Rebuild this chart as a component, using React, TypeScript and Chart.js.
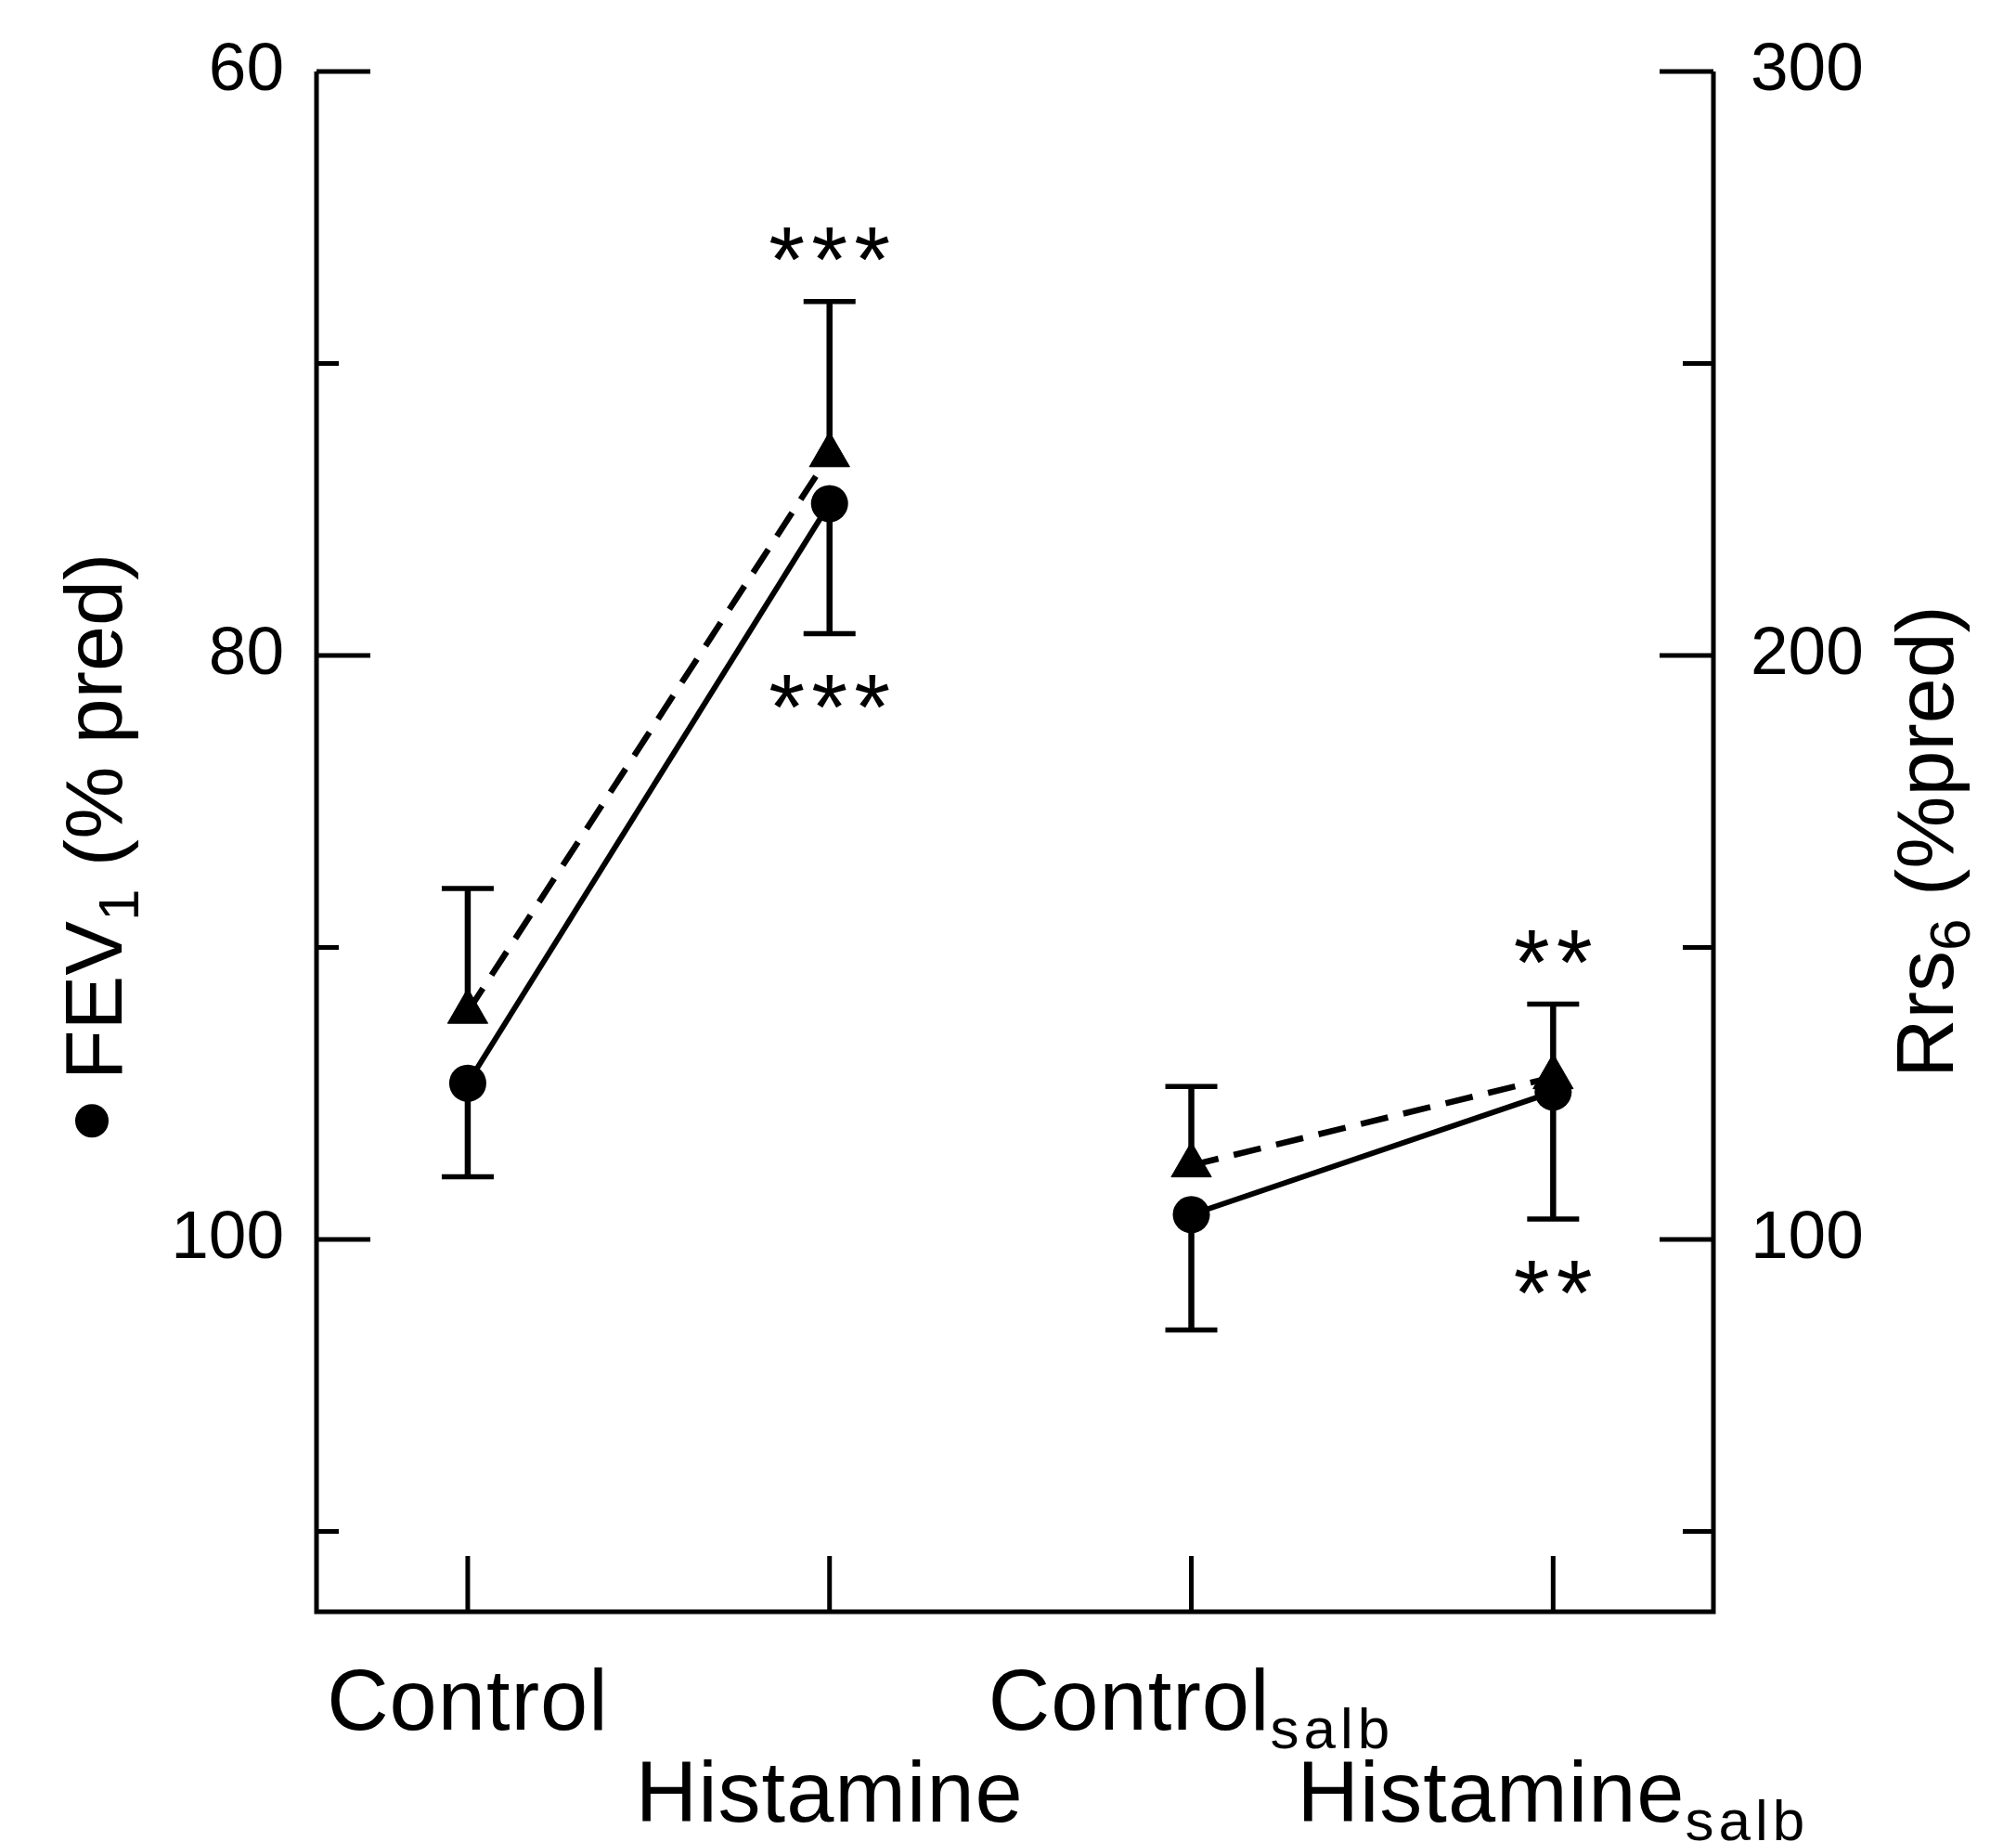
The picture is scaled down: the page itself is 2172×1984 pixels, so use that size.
import React, { useEffect, useRef } from 'react';
import { Chart, registerables } from 'chart.js';

Chart.register(...registerables);

// x categories (two label rows, some with a "salb" subscript)
const categoryNames = ['Control', 'Histamine', 'Control', 'Histamine'];
const categorySubs = ['', '', 'salb', 'salb'];
const labelRows = [0, 1, 0, 1];

// FEV1 (% pred) - left axis, upside down
const fev1Values = [94.65, 74.8, 99.15, 94.95];
const fev1Errors = [3.2, 4.45, 3.95, 4.35];

// Rrs6 (% pred) - right axis
const rrsValues = [139, 234.3, 112.7, 127.8];
const rrsErrors = [21.1, 26.3, 13.5, 12.5];

const starsAbove = ['', '***', '', '**'];
const starsBelow = ['', '***', '', '**'];

const leftTicks = [60, 70, 80, 90, 100, 110];
const leftLabels = [60, 80, 100];
const rightTicks = [50, 100, 150, 200, 250, 300];
const rightLabels = [100, 200, 300];

const FONT = '"Liberation Sans", Arial, Helvetica, sans-serif';

type Part = { text: string; size: number; dy?: number; spacing?: number };

function measureParts(ctx: CanvasRenderingContext2D, parts: Part[]) {
  return parts.map(p => {
    ctx.font = `${p.size}px ${FONT}`;
    (ctx as any).letterSpacing = `${p.spacing || 0}px`;
    const w = ctx.measureText(p.text).width;
    (ctx as any).letterSpacing = '0px';
    return w;
  });
}

function drawParts(ctx: CanvasRenderingContext2D, parts: Part[], x: number, y: number) {
  const widths = measureParts(ctx, parts);
  let cx = x;
  ctx.textAlign = 'left';
  ctx.textBaseline = 'alphabetic';
  parts.forEach((p, i) => {
    ctx.font = `${p.size}px ${FONT}`;
    (ctx as any).letterSpacing = `${p.spacing || 0}px`;
    ctx.fillText(p.text, cx, y + (p.dy || 0));
    (ctx as any).letterSpacing = '0px';
    cx += widths[i];
  });
}

function line(ctx: CanvasRenderingContext2D, x0: number, y0: number, x1: number, y1: number) {
  ctx.beginPath();
  ctx.moveTo(x0, y0);
  ctx.lineTo(x1, y1);
  ctx.stroke();
}

function drawStars(ctx: CanvasRenderingContext2D, stars: string, cx: number, cy: number) {
  if (!stars) return;
  ctx.font = `100px ${FONT}`;
  ctx.textAlign = 'center';
  ctx.textBaseline = 'alphabetic';
  const m = ctx.measureText('*');
  const base = cy + (m.actualBoundingBoxAscent - m.actualBoundingBoxDescent) / 2;
  const n = stars.length;
  for (let k = 0; k < n; k++) {
    ctx.fillText('*', cx + (k - (n - 1) / 2) * 46, base);
  }
}

function errorBar(ctx: CanvasRenderingContext2D, px: number, y0: number, y1: number) {
  ctx.lineWidth = 6.5;
  line(ctx, px, y0, px, y1);
  ctx.lineWidth = 5.5;
  line(ctx, px - 28, y1, px + 28, y1);
}

const decorations = {
  id: 'decorations',
  beforeDatasetsDraw(chart: any) {
    const { ctx } = chart;
    const x = chart.scales.x;
    const yL = chart.scales.y;
    const yR = chart.scales.y1;
    ctx.save();
    ctx.strokeStyle = '#000';
    ctx.lineCap = 'butt';
    fev1Values.forEach((v, i) => {
      const px = x.getPixelForValue(i);
      errorBar(ctx, px, yL.getPixelForValue(v), yL.getPixelForValue(v + fev1Errors[i]));
    });
    rrsValues.forEach((v, i) => {
      const px = x.getPixelForValue(i);
      errorBar(ctx, px, yR.getPixelForValue(v), yR.getPixelForValue(v + rrsErrors[i]));
    });
    ctx.restore();
  },
  afterDraw(chart: any) {
    const { ctx, chartArea } = chart;
    const { left, right, top, bottom } = chartArea;
    const x = chart.scales.x;
    const yL = chart.scales.y;
    const yR = chart.scales.y1;
    ctx.save();
    ctx.strokeStyle = '#000';
    ctx.fillStyle = '#000';
    ctx.lineWidth = 5;
    ctx.lineJoin = 'miter';

    // frame: left, bottom, right
    ctx.beginPath();
    ctx.moveTo(left, top);
    ctx.lineTo(left, bottom);
    ctx.lineTo(right, bottom);
    ctx.lineTo(right, top);
    ctx.stroke();

    // inward ticks
    leftTicks.forEach(v => {
      const py = yL.getPixelForValue(v);
      line(ctx, left, py, left + (leftLabels.includes(v) ? 58 : 24), py);
    });
    rightTicks.forEach(v => {
      const py = yR.getPixelForValue(v);
      line(ctx, right, py, right - (rightLabels.includes(v) ? 58 : 33), py);
    });
    categoryNames.forEach((_, i) => {
      const px = x.getPixelForValue(i);
      line(ctx, px, bottom, px, bottom - 60);
    });

    // category labels
    categoryNames.forEach((name, i) => {
      const parts: Part[] = [{ text: name, size: 92, spacing: 1 }];
      if (categorySubs[i]) parts.push({ text: categorySubs[i], size: 62, dy: 20, spacing: 5 });
      const total = measureParts(ctx, parts).reduce((a, b) => a + b, 0);
      const px = x.getPixelForValue(i);
      const py = bottom + (labelRows[i] === 0 ? 127 : 226);
      drawParts(ctx, parts, px - total / 2, py);
    });

    // significance marks
    categoryNames.forEach((_, i) => {
      const px = x.getPixelForValue(i);
      drawStars(ctx, starsAbove[i], px, yR.getPixelForValue(rrsValues[i] + rrsErrors[i]) - 62);
      drawStars(ctx, starsBelow[i], px, yL.getPixelForValue(fev1Values[i] + fev1Errors[i]) + 63);
    });

    // left title with the circle marker
    const leftParts: Part[] = [
      { text: 'FEV', size: 88 },
      { text: '1', size: 62, dy: 18 },
      { text: ' (% pred)', size: 88 },
    ];
    const markerGap = 62;
    const leftTotal = markerGap + measureParts(ctx, leftParts).reduce((a, b) => a + b, 0);
    ctx.save();
    ctx.translate(131, (top + bottom) / 2 + 4);
    ctx.rotate(-Math.PI / 2);
    ctx.beginPath();
    ctx.arc(-leftTotal / 2 + 18, -32, 18, 0, Math.PI * 2);
    ctx.fill();
    drawParts(ctx, leftParts, -leftTotal / 2 + markerGap, 0);
    ctx.restore();

    // right title
    const rightParts: Part[] = [
      { text: 'Rrs', size: 88 },
      { text: '6', size: 62, dy: 18 },
      { text: ' (%pred)', size: 88 },
    ];
    const rightTotal = measureParts(ctx, rightParts).reduce((a, b) => a + b, 0);
    ctx.save();
    ctx.translate(2104, (top + bottom) / 2);
    ctx.rotate(-Math.PI / 2);
    drawParts(ctx, rightParts, -rightTotal / 2, 0);
    ctx.restore();

    ctx.restore();
  },
};

const App: React.FC = () => {
  const chartRef = useRef<HTMLCanvasElement>(null);

  useEffect(() => {
    if (!chartRef.current) return;
    const chart = new Chart(chartRef.current, {
      type: 'line',
      data: {
        datasets: [
          {
            label: 'FEV1',
            data: fev1Values.map((y, i) => ({ x: i, y })),
            yAxisID: 'y',
            borderColor: '#000',
            borderWidth: 6,
            pointStyle: 'circle',
            pointRadius: 20,
            pointBackgroundColor: '#000',
            pointBorderColor: '#000',
            pointBorderWidth: 0,
            order: 0,
            segment: {
              borderColor: (c: any) => (c.p0DataIndex === 1 ? 'rgba(0,0,0,0)' : undefined),
            },
          },
          {
            label: 'Rrs6',
            data: rrsValues.map((y, i) => ({ x: i, y })),
            yAxisID: 'y1',
            borderColor: '#000',
            borderWidth: 6.5,
            borderDash: [30, 17],
            pointStyle: 'triangle',
            pointRadius: 25,
            pointBackgroundColor: '#000',
            pointBorderColor: '#000',
            pointBorderWidth: 1,
            order: 1,
            segment: {
              borderColor: (c: any) => (c.p0DataIndex === 1 ? 'rgba(0,0,0,0)' : undefined),
            },
          },
        ],
      },
      options: {
        animation: false,
        responsive: false,
        devicePixelRatio: 1,
        events: [],
        layout: { padding: { top: 77, bottom: 248, left: 0, right: 0 }, autoPadding: false },
        plugins: { legend: { display: false }, tooltip: { enabled: false } },
        scales: {
          x: { type: 'linear', min: -0.418, max: 3.443, display: false },
          y: {
            type: 'linear',
            position: 'left',
            reverse: true,
            min: 60,
            max: 112.75,
            grid: { display: false },
            border: { display: false },
            afterBuildTicks: (s: any) => {
              s.ticks = leftTicks.map(value => ({ value }));
            },
            afterFit: (s: any) => {
              s.width = 341;
            },
            ticks: {
              padding: 27,
              color: '#000',
              font: { family: FONT, size: 73 },
              callback: (v: any) => (leftLabels.includes(Number(v)) ? String(v) : ''),
            },
          },
          y1: {
            type: 'linear',
            position: 'right',
            min: 36.25,
            max: 300,
            grid: { display: false },
            border: { display: false },
            afterBuildTicks: (s: any) => {
              s.ticks = rightTicks.map(value => ({ value }));
            },
            afterFit: (s: any) => {
              s.width = 2172 - 1846;
            },
            ticks: {
              padding: 32,
              color: '#000',
              font: { family: FONT, size: 73 },
              callback: (v: any) => (rightLabels.includes(Number(v)) ? String(v) : ''),
            },
          },
        },
      },
      plugins: [decorations],
    });

    return () => {
      chart.destroy();
    };
  }, []);

  return (
    <div style={{ position: 'absolute', left: 0, top: 0, width: 2172, height: 1984, background: '#fff' }}>
      <canvas ref={chartRef} width={2172} height={1984} style={{ display: 'block' }} />
    </div>
  );
};

export default App;
